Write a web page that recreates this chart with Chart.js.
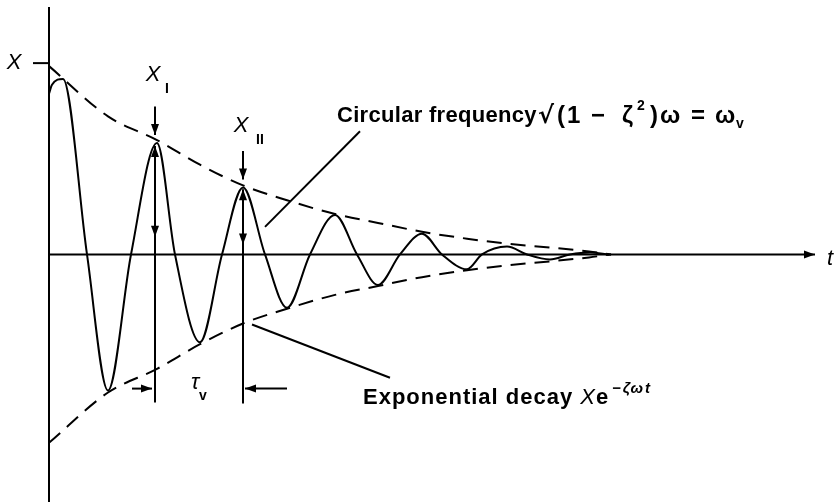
<!DOCTYPE html>
<html>
<head>
<meta charset="utf-8">
<script src="https://cdn.jsdelivr.net/npm/chart.js@4.4.1/dist/chart.umd.min.js"></script>
<style>
  html, body { margin: 0; padding: 0; background: #fff; }
  canvas { display: block; }
</style>
</head>
<body>
<canvas id="myChart" width="837" height="503"></canvas>
<script>
// damped oscillation (t along the axis, x displacement)
const oscT = [0, 3, 14, 38, 59, 82, 108, 126, 151, 173, 194, 216, 238, 261, 286, 308,
    329, 351, 373, 393, 418, 433, 458, 478, 501, 521, 541, 560];
const oscX = [163, 172, 178, 0, -138, 0, 113, 0, -89, 0, 68, 0, -54, 0, 40, 0,
    -31, 0, 21, 0, -15, 0, 8, 0, -5, 0, 2, 0];

// envelope amplitude (upper = +A, lower = -A)
const envT = [0, 59, 108, 151, 194, 238, 286, 329, 373, 418, 458, 501, 540, 562];
const envA = [191, 140, 116, 91, 70, 55, 41, 32, 23, 16, 11, 7, 3, 0];

// axis extents
const tMax = 766;
const xTop = 251, xBottom = -251;
const bigX = 194; // initial amplitude X marked on the vertical axis

const data = {
    datasets: [{
        label: 'x(t)',
        data: oscT.map((t, i) => ({x: t, y: oscX[i]})),
        borderColor: '#000',
        borderWidth: 2,
        pointRadius: 0,
        cubicInterpolationMode: 'monotone'
    }, {
        label: 'upper',
        data: envT.map((t, i) => ({x: t, y: envA[i]})),
        borderColor: '#000',
        borderWidth: 2,
        borderDash: [15, 9],
        pointRadius: 0,
        cubicInterpolationMode: 'monotone'
    }, {
        label: 'lower',
        data: envT.map((t, i) => ({x: t, y: -envA[i]})),
        borderColor: '#000',
        borderWidth: 2,
        borderDash: [15, 9],
        pointRadius: 0,
        cubicInterpolationMode: 'monotone'
    }]
};

function arrowHead(ctx, x1, y1, x2, y2) {
    const a = Math.atan2(y2 - y1, x2 - x1);
    const L = 11, W = 4;
    ctx.beginPath();
    ctx.moveTo(x2, y2);
    ctx.lineTo(x2 - L * Math.cos(a) + W * Math.sin(a), y2 - L * Math.sin(a) - W * Math.cos(a));
    ctx.lineTo(x2 - L * Math.cos(a) - W * Math.sin(a), y2 - L * Math.sin(a) + W * Math.cos(a));
    ctx.closePath();
    ctx.fill();
}

// runs: [text, font, dy, at] -- 'at' = offset from start, else follows on
function richText(ctx, x0, y, runs) {
    ctx.textBaseline = 'middle';
    ctx.textAlign = 'left';
    let x = x0;
    for (const [s, f, dy, at] of runs) {
        ctx.font = f;
        if (at !== undefined) x = x0 + at;
        ctx.fillText(s, x, y + (dy || 0));
        x += ctx.measureText(s).width;
    }
}

const sketch = {
    id: 'sketch',
    afterDatasetsDraw(chart) {
        const ctx = chart.ctx;
        const X = v => chart.scales.x.getPixelForValue(v);
        const Y = v => chart.scales.y.getPixelForValue(v);
        const line = (t1, v1, t2, v2) => {
            ctx.beginPath();
            ctx.moveTo(X(t1), Y(v1));
            ctx.lineTo(X(t2), Y(v2));
            ctx.stroke();
        };
        const arrow = (t1, v1, t2, v2) => {
            line(t1, v1, t2, v2);
            arrowHead(ctx, X(t1), Y(v1), X(t2), Y(v2));
        };
        ctx.save();
        ctx.strokeStyle = '#000';
        ctx.fillStyle = '#000';
        ctx.lineWidth = 2;
        ctx.setLineDash([]);

        // axes
        line(0, xTop, 0, xBottom);
        arrow(0, 0, tMax, 0);
        line(-16, bigX, 0, bigX);

        // X_I and X_II markers
        arrow(106, 150, 106, 121);
        line(106, 110, 106, -150);
        arrowHead(ctx, X(106), Y(60), X(106), Y(110));
        arrowHead(ctx, X(106), Y(60), X(106), Y(18));
        arrow(194, 105, 194, 76);
        line(194, 66, 194, -151);
        arrowHead(ctx, X(194), Y(38), X(194), Y(66));
        arrowHead(ctx, X(194), Y(38), X(194), Y(10));

        // period arrows
        arrow(83, -136, 103, -136);
        arrow(238, -136, 196, -136);

        // leader lines
        line(311, 125, 216, 28);
        line(203, -71, 341, -125);

        // labels
        const it = 'italic 22px "Liberation Sans"';
        const bd = 'bold 22px "Liberation Sans"';
        const mb = 'bold 24px "Liberation Sans"';
        const sm = 'bold 14px "Liberation Sans"';
        ctx.textAlign = 'center';
        ctx.textBaseline = 'middle';
        ctx.font = it;
        ctx.fillText('X', X(-35), Y(bigX));
        ctx.fillText('X', X(104), Y(182));
        ctx.fillText('X', X(192), Y(130));
        ctx.fillText('τ', X(146), Y(-130));
        ctx.fillText('t', X(781), Y(-4));
        ctx.font = sm;
        ctx.fillText('I', X(118), Y(168));
        ctx.fillText('II', X(211), Y(116));
        ctx.fillText('v', X(154), Y(-144));

        ctx.letterSpacing = '0.3px';
        richText(ctx, X(288), Y(140), [
            ['Circular frequency', bd]
        ]);
        ctx.letterSpacing = '0px';
        richText(ctx, X(489), Y(140), [
            ['√', 'bold 24px "DejaVu Sans"', 0, 0],
            ['(', mb, 0, 19],
            ['1', mb, 0, 29],
            ['−', mb, 0, 53],
            ['ζ', mb, 0, 84],
            ['2', sm, -10, 99],
            [')', mb, 0, 112],
            ['ω', mb, 0, 122],
            ['=', mb, 0, 153],
            ['ω', mb, 0, 177],
            ['v', sm, 8, 198]
        ]);
        ctx.letterSpacing = '1px';
        richText(ctx, X(314), Y(-145), [
            ['Exponential decay ', bd],
            ['X', it],
            ['e', bd]
        ]);
        ctx.letterSpacing = '2px';
        richText(ctx, X(563), Y(-136), [
            ['−ζωt', 'italic bold 15px "Liberation Sans"']
        ]);
        ctx.letterSpacing = '0px';
        ctx.restore();
    }
};

const config = {
    type: 'line',
    data,
    options: {
        responsive: false,
        animation: false,
        layout: { padding: { left: 49, right: 22, top: 0, bottom: 0 } },
        plugins: { legend: { display: false }, tooltip: { enabled: false } },
        scales: {
            x: { type: 'linear', min: 0, max: tMax, display: false },
            y: { min: -252, max: 258, display: false }
        }
    },
    plugins: [sketch]
};

const myChart = new Chart(document.getElementById('myChart'), config);
</script>
</body>
</html>
